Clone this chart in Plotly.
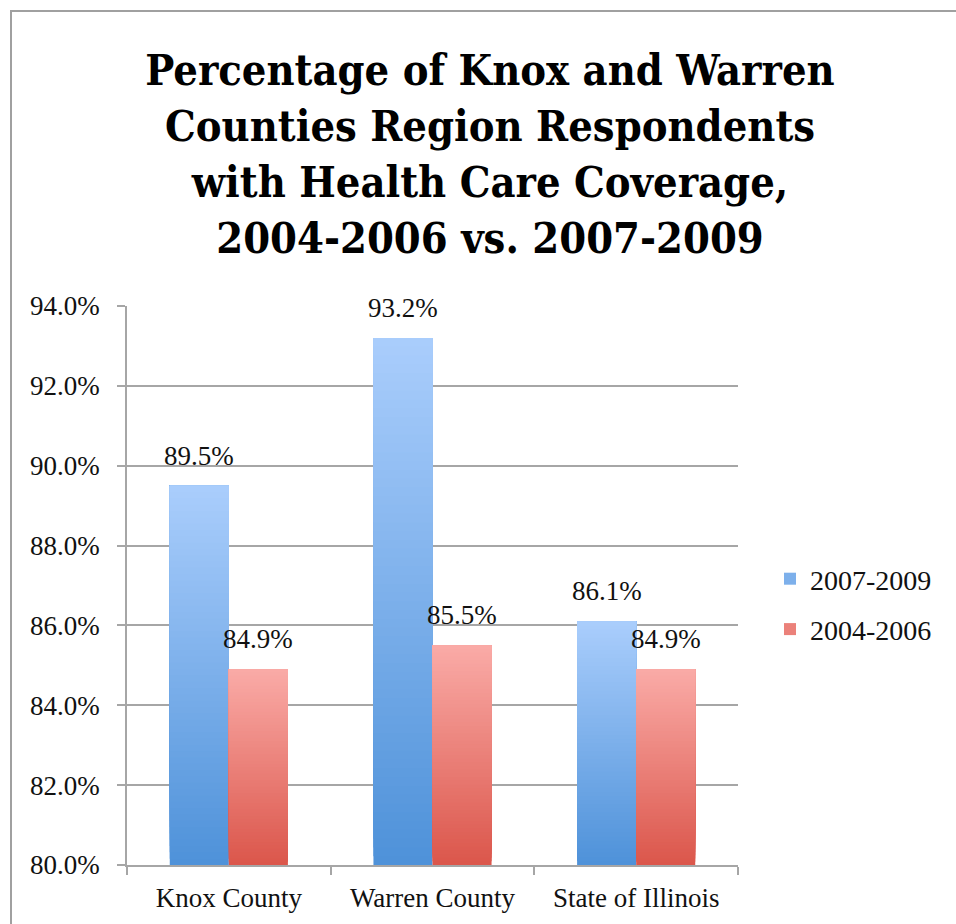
import plotly.graph_objects as go

# Survey results: share of respondents with health care coverage (%)
categories = ["Knox County", "Warren County", "State of Illinois"]
period_recent = "2007-2009"
period_earlier = "2004-2006"
values_recent = [89.5, 93.2, 86.1]
values_earlier = [84.9, 85.5, 84.9]
y_ticks = [80, 82, 84, 86, 88, 90, 92, 94]

AXIS_MIN, AXIS_MAX = 80, 94
BARGAP = 0.42
N_STEPS = 60  # layers used to render the vertical colour gradient of each bar

BLUE_TOP, BLUE_BOTTOM = (170, 205, 252), (78, 146, 217)
RED_TOP, RED_BOTTOM = (250, 171, 167), (219, 86, 75)

FONT = "Liberation Serif"
TITLE_FONT = "DejaVu Serif Condensed, Liberation Serif"


def mix(c0, c1, t):
    return "rgb({},{},{})".format(*[round(a + (b - a) * t) for a, b in zip(c0, c1)])


fig = go.Figure()


def add_gradient_bars(values, name, group, bottom, top):
    # Each layer runs from its own start up to the bar's value, so later
    # (lighter) layers cover the upper part of earlier ones without seams.
    steps = [(v - AXIS_MIN) / N_STEPS for v in values]
    for i in range(N_STEPS):
        t = (i + 0.5) / N_STEPS
        starts = [AXIS_MIN + s * i for s in steps]
        fig.add_trace(go.Bar(
            x=categories,
            y=[v - b for v, b in zip(values, starts)],
            base=starts,
            offsetgroup=group,
            legendgroup=group,
            name=name,
            showlegend=(i == N_STEPS // 2),
            marker=dict(color=mix(bottom, top, t), line=dict(width=0)),
            hoverinfo="skip",
        ))


add_gradient_bars(values_recent, period_recent, "recent", BLUE_BOTTOM, BLUE_TOP)
add_gradient_bars(values_earlier, period_earlier, "earlier", RED_BOTTOM, RED_TOP)

# Value labels above each bar
offset = (1 - BARGAP) / 4
for i, cat in enumerate(categories):
    for vals, dx in ((values_recent, -offset), (values_earlier, offset)):
        fig.add_annotation(
            x=i + dx, y=vals[i], xref="x", yref="y",
            text=f"{vals[i]:.1f}%", showarrow=False,
            yanchor="bottom", yshift=13,
            font=dict(family=FONT, size=27, color="#111111"),
        )

# Outer chart frame
fig.add_shape(
    type="rect", xref="paper", yref="paper",
    x0=(11 - 127) / 611, x1=1.5, y0=-0.3, y1=1 + (306 - 11) / 559,
    line=dict(color="#a0a0a0", width=2), fillcolor="rgba(0,0,0,0)", layer="below",
)

fig.update_layout(
    width=956, height=924,
    margin=dict(l=127, r=218, t=306, b=59),
    paper_bgcolor="white", plot_bgcolor="white",
    barmode="group", bargap=BARGAP, bargroupgap=0,
    font=dict(family=FONT, size=27, color="#111111"),
    title=dict(
        text="Percentage of Knox and Warren<br>Counties Region Respondents<br>"
             "with Health Care Coverage,<br>2004-2006 vs. 2007-2009",
        x=490 / 956, xanchor="center", xref="container",
        y=1 - 85 / 924, yanchor="top", yref="container",
        font=dict(family=TITLE_FONT, size=43, color="#000000", weight="bold"),
    ),
    legend=dict(
        x=(770 - 127) / 611, xanchor="left", y=(865 - 604) / 559, yanchor="middle",
        traceorder="grouped", tracegroupgap=11,
        font=dict(family=FONT, size=28, color="#111111"),
        bgcolor="rgba(0,0,0,0)",
    ),
    showlegend=True,
)

fig.update_yaxes(
    range=[AXIS_MIN, AXIS_MAX], tickvals=y_ticks,
    ticktext=[f"{v:.1f}%" for v in y_ticks],
    showgrid=True, gridcolor="#a6a6a6", gridwidth=1.5,
    showline=True, linecolor="#a6a6a6", linewidth=1.5,
    ticks="outside", ticklen=8, tickcolor="#a6a6a6", tickwidth=1.5,
    ticklabelstandoff=12, zeroline=False,
    tickfont=dict(family=FONT, size=27, color="#111111"),
)
fig.update_xaxes(
    type="category", showline=True, linecolor="#a6a6a6", linewidth=1.5,
    ticks="outside", tickson="boundaries", ticklen=8, tickcolor="#a6a6a6", tickwidth=1.5,
    ticklabelstandoff=8, showgrid=False,
    tickfont=dict(family=FONT, size=27, color="#111111"),
)

fig.write_html("out.html")
